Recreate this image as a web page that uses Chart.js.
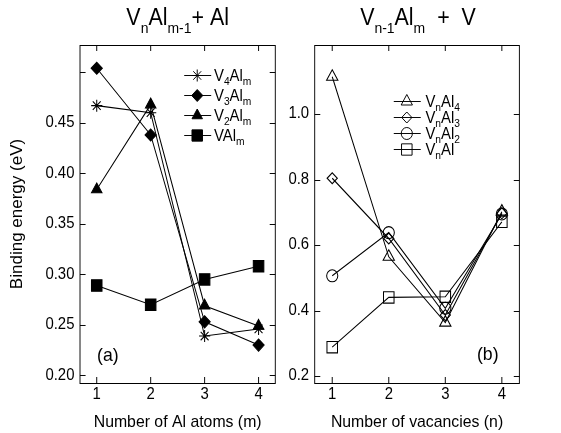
<!DOCTYPE html>
<html>
<head>
<meta charset="utf-8">
<script src="https://cdn.jsdelivr.net/npm/chart.js@4.4.1/dist/chart.umd.min.js"></script>
<style>
  html, body { margin: 0; padding: 0; background: #fff; overflow: hidden; }
  #frame { position: relative; width: 561px; height: 433px; overflow: hidden; }
  .panel { position: absolute; top: 0; }
</style>
</head>
<body>
<div id="frame">
  <canvas id="panelA" class="panel" width="305" height="433" style="left:0"></canvas>
  <canvas id="panelB" class="panel" width="298" height="433" style="left:284px"></canvas>
</div>
<script>
// (a) binding energy of one Al atom, by number of Al atoms m
const alAtoms = [1, 2, 3, 4];
const v4AlM = [0.467, 0.460, 0.239, 0.246];
const v3AlM = [0.504, 0.438, 0.253, 0.230];
const v2AlM = [0.384, 0.468, 0.269, 0.249];
const vAlM  = [0.289, 0.270, 0.295, 0.308];

// (b) binding energy of one vacancy, by number of vacancies n
const vacancies = [1, 2, 3, 4];
const vnAl4 = [1.114, 0.564, 0.363, 0.702];
const vnAl3 = [0.804, 0.620, 0.386, 0.697];
const vnAl2 = [0.506, 0.638, 0.407, 0.695];
const vnAl1 = [0.288, 0.440, 0.442, 0.671];

// tick values
const xTicks = [1, 2, 3, 4];
const yTicksA = [0.20, 0.25, 0.30, 0.35, 0.40, 0.45, 0.50];
const yTicksB = [0.2, 0.4, 0.6, 0.8, 1.0];

// the figure is laid out on a 603px-wide grid and drawn narrowed to 561px
const SX = 561 / 603;

const FONT = '"Liberation Sans", Arial, Helvetica, sans-serif';
Chart.defaults.font.family = FONT;
Chart.defaults.color = '#000';

const toXY = (xs, ys) => xs.map((x, i) => ({ x: x, y: ys[i] }));

// horizontal squeeze applied to everything the chart draws
const squeeze = {
  id: 'squeeze',
  beforeDraw(chart) {
    chart.ctx.save();
    chart.ctx.setTransform(SX, 0, 0, 1, 0, 0);
  },
  afterDraw(chart) {
    chart.ctx.restore();
  }
};

// text with subscripts: parts = [[text, isSub], ...]
function richWidth(ctx, parts, size, subSize) {
  let w = 0;
  for (const [t, sub] of parts) {
    ctx.font = (sub ? subSize : size) + 'px ' + FONT;
    w += ctx.measureText(t).width;
  }
  return w;
}
function drawRich(ctx, parts, x, y, size, subSize, drop) {
  let cx = x;
  ctx.textBaseline = 'alphabetic';
  ctx.textAlign = 'left';
  for (const [t, sub] of parts) {
    ctx.font = (sub ? subSize : size) + 'px ' + FONT;
    ctx.fillText(t, cx, sub ? y + drop : y);
    cx += ctx.measureText(t).width;
  }
}

function marker(ds) {
  return {
    pointStyle: ds.pointStyle,
    radius: ds.pointRadius,
    borderWidth: 1,
    rotation: 0
  };
}

// frame, inward ticks, title, legend and panel tag
const decor = {
  id: 'decor',
  afterDatasetsDraw(chart, args, opts) {
    const ctx = chart.ctx;
    const a = chart.chartArea;
    const xs = chart.scales.x, ys = chart.scales.y;
    ctx.save();
    ctx.strokeStyle = '#000';
    ctx.lineWidth = 1;
    ctx.beginPath();
    xs.ticks.forEach(t => {
      const px = xs.getPixelForValue(t.value);
      ctx.moveTo(px, a.bottom); ctx.lineTo(px, a.bottom - 6);
      ctx.moveTo(px, a.top); ctx.lineTo(px, a.top + 6);
    });
    ys.ticks.forEach(t => {
      const py = Math.round(ys.getPixelForValue(t.value)) + 0.5;
      ctx.moveTo(a.left, py); ctx.lineTo(a.left + 6, py);
      ctx.moveTo(a.right, py); ctx.lineTo(a.right - 6, py);
    });
    ctx.stroke();
    ctx.strokeRect(a.left, Math.round(a.top) + 0.5,
                   a.right - a.left, Math.round(a.bottom - a.top));

    ctx.fillStyle = '#000';
    // title over the panel
    const tw = richWidth(ctx, opts.title, 23, 15);
    drawRich(ctx, opts.title, (a.left + a.right) / 2 - tw / 2 + opts.titleShift, 25, 23, 15, 8);

    // legend
    const lg = opts.legend;
    chart.data.datasets.forEach((ds, i) => {
      const y = lg.y + i * lg.dy;
      ctx.strokeStyle = '#000';
      ctx.lineWidth = 1;
      ctx.beginPath();
      ctx.moveTo(lg.x0, y + 0.5); ctx.lineTo(lg.x1, y + 0.5);
      ctx.stroke();
      ctx.fillStyle = ds.pointBackgroundColor;
      ctx.strokeStyle = '#000';
      Chart.helpers.drawPoint(ctx, marker(ds), lg.mx, y + 0.5);
      ctx.fillStyle = '#000';
      drawRich(ctx, ds.rich, lg.tx, y + 6, 16, 11, 4);
    });

    // panel tag
    ctx.font = '19px ' + FONT;
    ctx.textAlign = 'center';
    ctx.textBaseline = 'middle';
    ctx.fillText(opts.tag.text, a.left + opts.tag.dx, a.bottom + opts.tag.dy);
    ctx.restore();
  }
};

function lineSet(label, rich, xs, ys, style, radius, filled) {
  return {
    label: label,
    rich: rich,
    data: toXY(xs, ys),
    borderColor: '#000',
    borderWidth: 1.1,
    pointStyle: style,
    pointRadius: radius,
    pointBorderWidth: 1.1,
    pointBorderColor: '#000',
    pointBackgroundColor: filled ? '#000' : 'rgba(0,0,0,0)',
    fill: false,
    tension: 0
  };
}

function axes(yMin, yMax, yTicks, yFmt, yWidth, xTitle, yTitle) {
  return {
    x: {
      type: 'linear', min: 0.69, max: 4.31,
      afterBuildTicks: s => { s.ticks = xTicks.map(v => ({ value: v })); },
      afterFit: s => { s.height = 50; },
      ticks: { font: { size: 16 }, padding: 2, color: '#000', callback: v => String(v) },
      grid: { display: false, drawTicks: false },
      border: { display: false },
      title: { display: true, text: xTitle, font: { size: 17 }, color: '#000', padding: { top: 0, bottom: 0 } }
    },
    y: {
      type: 'linear', min: yMin, max: yMax,
      afterBuildTicks: s => { s.ticks = yTicks.map(v => ({ value: v })); },
      afterFit: s => { s.width = yWidth; },
      ticks: { font: { size: 16 }, padding: 6, color: '#000', callback: yFmt },
      grid: { display: false, drawTicks: false },
      border: { display: false },
      title: { display: !!yTitle, text: yTitle || '', font: { size: 17 }, color: '#000', padding: { top: 9, bottom: 0 } }
    }
  };
}

new Chart(document.getElementById('panelA'), {
  type: 'line',
  data: {
    datasets: [
      lineSet('V4Alm', [['V', 0], ['4', 1], ['Al', 0], ['m', 1]], alAtoms, v4AlM, 'star', 6, false),
      lineSet('V3Alm', [['V', 0], ['3', 1], ['Al', 0], ['m', 1]], alAtoms, v3AlM, 'rectRot', 6, true),
      lineSet('V2Alm', [['V', 0], ['2', 1], ['Al', 0], ['m', 1]], alAtoms, v2AlM, 'triangle', 6.5, true),
      lineSet('VAlm', [['VAl', 0], ['m', 1]], alAtoms, vAlM, 'rect', 8, true)
    ]
  },
  options: {
    responsive: false,
    animation: false,
    layout: { padding: { top: 45, right: 7, left: 0, bottom: 0 } },
    scales: axes(0.1925, 0.527, yTicksA, v => v > 0.475 ? '' : v.toFixed(2), 86,
                 'Number of Al atoms (m)', 'Binding energy (eV)'),
    plugins: {
      legend: { display: false },
      tooltip: { enabled: false },
      decor: {
        title: [['V', 0], ['n', 1], ['Al', 0], ['m-1', 1], ['+ Al', 0]],
        titleShift: 0,
        legend: { x0: 198, x1: 227, mx: 212, tx: 230, y: 75, dy: 20 },
        tag: { text: '(a)', dx: 30, dy: -27 }
      }
    }
  },
  plugins: [squeeze, decor]
});

new Chart(document.getElementById('panelB'), {
  type: 'line',
  data: {
    datasets: [
      lineSet('VnAl4', [['V', 0], ['n', 1], ['Al', 0], ['4', 1]], vacancies, vnAl4, 'triangle', 7, false),
      lineSet('VnAl3', [['V', 0], ['n', 1], ['Al', 0], ['3', 1]], vacancies, vnAl3, 'rectRot', 5.5, false),
      lineSet('VnAl2', [['V', 0], ['n', 1], ['Al', 0], ['2', 1]], vacancies, vnAl2, 'circle', 6, false),
      lineSet('VnAl', [['V', 0], ['n', 1], ['Al', 0]], vacancies, vnAl1, 'rect', 8, false)
    ]
  },
  options: {
    responsive: false,
    animation: false,
    layout: { padding: { top: 45, right: 45, left: 0, bottom: 0 } },
    scales: axes(0.1786, 1.211, yTicksB, v => v.toFixed(1), 33,
                 'Number of vacancies (n)', null),
    plugins: {
      legend: { display: false },
      tooltip: { enabled: false },
      decor: {
        title: [['V', 0], ['n-1', 1], ['Al', 0], ['m', 1], ['  +  V', 0]],
        titleShift: 1,
        legend: { x0: 118, x1: 147, mx: 132, tx: 152, y: 101, dy: 16 },
        tag: { text: '(b)', dx: 186, dy: -28 }
      }
    }
  },
  plugins: [squeeze, decor]
});
</script>
</body>
</html>
